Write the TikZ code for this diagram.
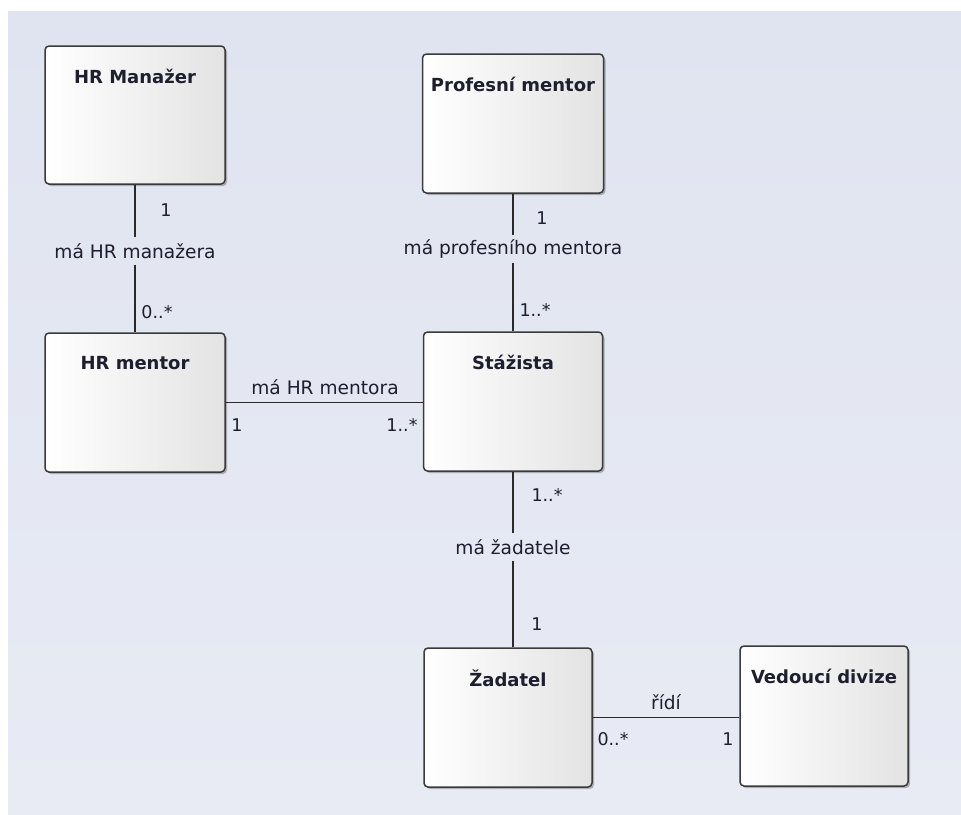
\documentclass[tikz,border=0pt]{standalone}
\usepackage{fontspec}
\setmainfont{DejaVu Sans}
\usetikzlibrary{shadows}
\definecolor{bgtop}{HTML}{E0E4F0}
\definecolor{bgbot}{HTML}{E8EBF4}
\definecolor{edge}{HTML}{3A3A3A}
\definecolor{linec}{HTML}{2A2A2A}
\definecolor{ink}{HTML}{1E1E2E}
\definecolor{boxr}{HTML}{E3E3E3}
\tikzset{
  cls/.style={draw=edge, line width=1.5pt, rounded corners=4pt,
    left color=white, right color=boxr, inner sep=0pt,
    drop shadow={shadow xshift=2pt, shadow yshift=-2pt, opacity=0.25, fill=black}},
  ttl/.style={font=\bfseries\fontsize{18}{20}\selectfont, text=ink, inner sep=0pt},
  assoc/.style={draw=linec, line width=1.7pt},
  rolename/.style={font=\fontsize{18.6}{20}\selectfont, text=ink, inner sep=0pt},
  gapname/.style={rolename, minimum height=27pt},
  mult/.style={font=\fontsize{17.5}{20}\selectfont, text=ink, inner sep=0pt},
}
\begin{document}
\begin{tikzpicture}[x=1pt, y=-1pt]
  % canvas
  \useasboundingbox[fill=white] (0,0) rectangle (961,814);
  \fill[top color=bgtop, bottom color=bgbot] (8,11) rectangle (965,818);

  % classes
  \node[cls, minimum width=180pt, minimum height=138pt] (hrm)   at (135,115)   {};
  \node[cls, minimum width=181pt, minimum height=139pt] (prof)  at (513,123.5) {};
  \node[cls, minimum width=180pt, minimum height=139pt] (hrmen) at (135,402.5) {};
  \node[cls, minimum width=179pt, minimum height=139pt] (staz)  at (513,401.5) {};
  \node[cls, minimum width=168pt, minimum height=139pt] (zad)   at (508,717.5) {};
  \node[cls, minimum width=168pt, minimum height=140pt] (ved)   at (824,716)   {};

  % class names
  \node[ttl] (hrmT)   at ([yshift=-31pt]hrm.north)   {HR Manažer};
  \node[ttl] (profT)  at ([yshift=-31pt]prof.north)  {Profesní mentor};
  \node[ttl] (hrmenT) at ([yshift=-31pt]hrmen.north) {HR mentor};
  \node[ttl] (stazT)  at ([yshift=-31pt]staz.north)  {Stážista};
  \node[ttl] (zadT)   at ([yshift=-31pt]zad.north)   {Žadatel};
  \node[ttl] (vedT)   at ([yshift=-31pt]ved.north)   {Vedoucí divize};

  % association names
  \node[gapname]  (r1) at (135,251) {má HR manažera};
  \node[gapname]  (r2) at (513,249) {má profesního mentora};
  \node[rolename] (r4) at (325,387) {má HR mentora};
  \node[gapname]  (r3) at (513,547) {má žadatele};
  \node[rolename] (r5) at (666,702) {řídí};

  % associations
  \draw[assoc] (hrm) -- (r1);
  \draw[assoc] (r1) -- (hrmen);
  \draw[assoc] (prof) -- (r2);
  \draw[assoc] (r2) -- (staz);
  \draw[assoc] (hrmen.east) -- (hrmen.east -| staz.west);
  \draw[assoc] (staz) -- (r3);
  \draw[assoc] (r3) -- (r3 |- zad.north);
  \draw[assoc] (zad.east) -- (zad.east -| ved.west);

  % multiplicities
  \node[mult] (m1a) at (166,210) {1};
  \node[mult] (m1b) at (157,312) {0..*};
  \node[mult] (m2a) at (542,218) {1};
  \node[mult] (m2b) at (535,310) {1..*};
  \node[mult] (m4a) at (237,425) {1};
  \node[mult] (m4b) at (402,425) {1..*};
  \node[mult] (m3a) at (547,495) {1..*};
  \node[mult] (m3b) at (537,624) {1};
  \node[mult] (m5a) at (613,739) {0..*};
  \node[mult] (m5b) at (728,739) {1};
\end{tikzpicture}
\end{document}
